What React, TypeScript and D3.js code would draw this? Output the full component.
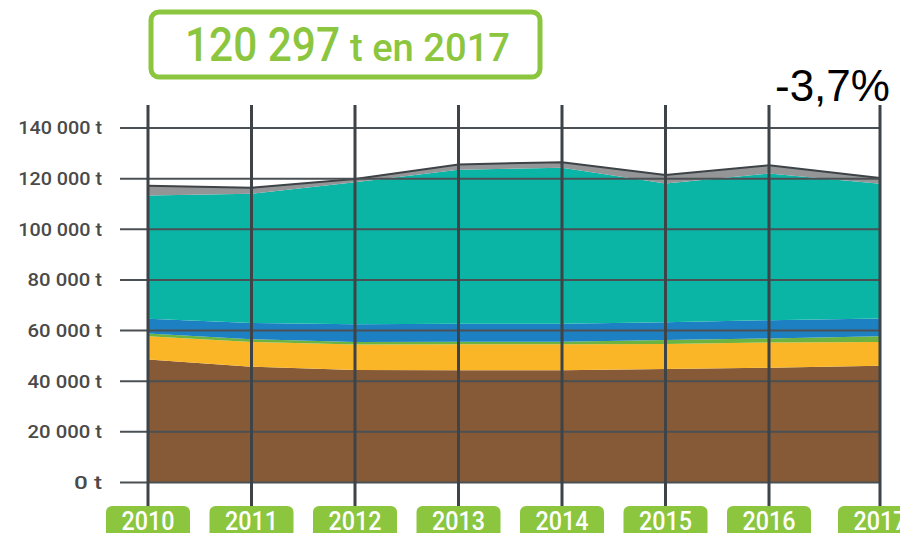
import React from "react";
import * as d3 from "d3";

const years = [2010, 2011, 2012, 2013, 2014, 2015, 2016, 2017];
const brown = [48600, 45700, 44400, 44300, 44300, 44800, 45300, 46100];
const yellow = [9200, 9800, 10100, 10300, 10300, 9900, 10000, 9400];
const green = [1000, 1100, 1000, 1000, 1000, 1600, 1600, 2300];
const blue = [5900, 6400, 7000, 7100, 7100, 7000, 7200, 7000];
const teal = [48600, 51000, 56100, 60800, 61600, 54800, 57900, 53200];
const gray = [3900, 2400, 1300, 2100, 2200, 3300, 3300, 2300];
const yTicks = [0, 20000, 40000, 60000, 80000, 100000, 120000, 140000];
const tickLabels = ["0 t", "20 000 t", "40 000 t", "60 000 t", "80 000 t", "100 000 t", "120 000 t", "140 000 t"];
const headline = "120 297";
const headlineSuffix = "t en 2017";
const changeLabel = "-3,7%";

const keys = ["brown", "yellow", "green", "blue", "teal", "gray"];
const colors: Record<string, string> = {
  brown: "#875a37",
  yellow: "#fbb628",
  green: "#6cb43f",
  blue: "#1d80c3",
  teal: "#0bb5a6",
  gray: "#939597",
};

const GREEN = "#8cc63f";
const DARK = "#3d4346";
const COND = "Roboto, 'DejaVu Sans Condensed', sans-serif";

export default function App() {
  const table = years.map((y, i) => ({
    year: y,
    brown: brown[i],
    yellow: yellow[i],
    green: green[i],
    blue: blue[i],
    teal: teal[i],
    gray: gray[i],
  }));
  const x = d3.scaleLinear().domain([2010, 2016, 2017]).range([148, 769, 880]);
  const y = d3.scaleLinear().domain([0, 140000]).range([482.5, 128]);
  const series = d3.stack<any>().keys(keys)(table);
  const area = d3
    .area<any>()
    .x((d) => x(d.data.year))
    .y0((d) => y(d[0]))
    .y1((d) => y(d[1]));
  const topLine = d3
    .line<any>()
    .x((d) => x(d.data.year))
    .y((d) => y(d[1]));
  const top = series[series.length - 1];

  return (
    <svg width={900} height={533} style={{ position: "absolute", left: 0, top: 0, background: "#fff" }}>
      {series.map((s) => (
        <path key={s.key} d={area(s) || ""} fill={colors[s.key]} />
      ))}
      <path d={topLine(top) || ""} fill="none" stroke={DARK} strokeWidth={2} />
      {yTicks.map((t, i) => (
        <g key={t}>
          <line x1={120} x2={880} y1={y(t)} y2={y(t)} stroke="#4a5053" strokeWidth={2} />
          <text
            x={102}
            y={y(t)}
            dy="0.36em"
            textAnchor="end"
            fontFamily={COND}
            fontWeight={500}
            fontSize={18}
            fill="#4a4a4a"
            textLength={tickLabels[i].length * 9.3}
            lengthAdjust="spacingAndGlyphs"
          >
            {tickLabels[i]}
          </text>
        </g>
      ))}
      {years.map((yr) => (
        <g key={yr}>
          <line x1={x(yr)} x2={x(yr)} y1={105} y2={507} stroke={DARK} strokeWidth={3} />
          <rect x={x(yr) - 42} y={506} width={84} height={40} rx={6} fill={GREEN} />
          <text
            x={x(yr)}
            y={530}
            textAnchor="middle"
            fontFamily={COND}
            fontWeight={500}
            fontSize={25}
            fill="#fff"
            textLength={53}
            lengthAdjust="spacingAndGlyphs"
          >
            {yr}
          </text>
        </g>
      ))}
      <rect x={151} y={12} width={389} height={65} rx={8} fill="#fff" stroke={GREEN} strokeWidth={5} />
      <text x={185} y={61} fontFamily={COND} fontWeight={500} fontSize={48} fill={GREEN} textLength={155} lengthAdjust="spacingAndGlyphs">
        {headline}
      </text>
      <text x={350} y={61} fontFamily={COND} fontWeight={500} fontSize={38} fill={GREEN} textLength={160} lengthAdjust="spacingAndGlyphs">
        {headlineSuffix}
      </text>
      <text x={775} y={101} fontFamily="'Liberation Sans', Arial, sans-serif" fontSize={44} fill="#000">
        {changeLabel}
      </text>
    </svg>
  );
}
